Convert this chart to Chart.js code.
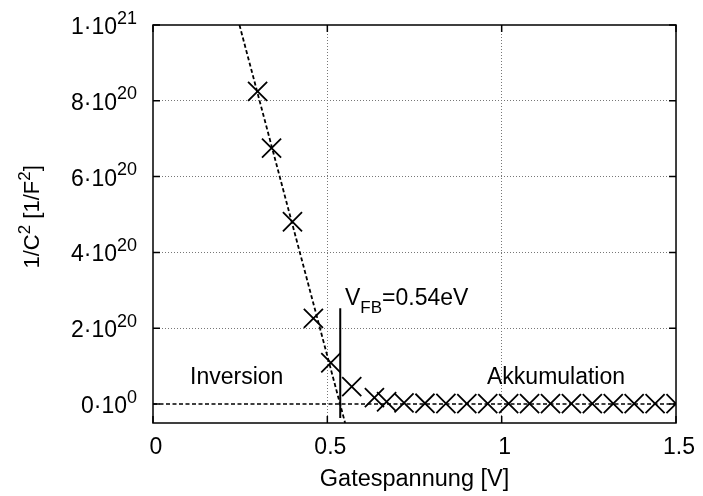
<!DOCTYPE html>
<html>
<head>
<meta charset="utf-8">
<script src="https://cdn.jsdelivr.net/npm/chart.js@4/dist/chart.umd.min.js"></script>
<style>
  html, body { margin: 0; padding: 0; background: #fff; }
  #wrap { width: 703px; height: 496px; position: relative; }
</style>
</head>
<body>
<div id="wrap"><canvas id="cv"></canvas></div>
<script>
// Messwerte: Gatespannung [V] und 1/C^2 [1/F^2]
const gateVoltage = [0.30, 0.34, 0.40, 0.46, 0.51, 0.57, 0.635, 0.67, 0.72, 0.78, 0.84, 0.90, 0.96,
  1.02, 1.08, 1.14, 1.20, 1.26, 1.32, 1.38, 1.44, 1.50];
const invCapSq = [8.25e20, 6.75e20, 4.81e20, 2.26e20, 1.09e20, 0.46e20, 0.17e20, 0.06e20, 0.03e20,
  0.02e20, 0.015e20, 0.01e20, 0.01e20, 0.01e20, 0.01e20, 0.01e20, 0.01e20, 0.01e20, 0.01e20,
  0.01e20, 0.01e20, 0.01e20];

// Fitgerade, Nulllinie und V_FB-Markierung
const fitX = [0.248, 0.551];
const fitY = [1e21, -5e19];
const zeroX = [0, 1.5];
const zeroY = [0, 0];
const vfbX = [0.537, 0.537];
const vfbY = [2.525e20, -3.7e19];

const xTicks = [0, 0.5, 1, 1.5];
const yTicks = [0, 2e20, 4e20, 6e20, 8e20, 1e21];
const yTickMant = ["0", "2", "4", "6", "8", "1"];
const yTickExp = ["0", "20", "20", "20", "20", "21"];

const FAM = '"Liberation Sans", Arial, Helvetica, sans-serif';
const pts = (xs, ys) => xs.map((v, i) => ({ x: v, y: ys[i] }));

// Rahmen, Ticks nach innen, Beschriftungen mit Hoch-/Tiefstellung
const frame = {
  id: "frame",
  afterDatasetsDraw(chart) {
    const { ctx, chartArea: a, scales: { x, y } } = chart;
    ctx.save();
    ctx.strokeStyle = "#000";
    ctx.lineWidth = 1.5;
    ctx.strokeRect(a.left, a.top, a.right - a.left, a.bottom - a.top);
    ctx.beginPath();
    xTicks.forEach((v) => {
      const p = x.getPixelForValue(v);
      ctx.moveTo(p, a.bottom); ctx.lineTo(p, a.bottom - 7);
      ctx.moveTo(p, a.top); ctx.lineTo(p, a.top + 7);
    });
    yTicks.forEach((v) => {
      const p = y.getPixelForValue(v);
      ctx.moveTo(a.left, p); ctx.lineTo(a.left + 7, p);
      ctx.moveTo(a.right, p); ctx.lineTo(a.right - 7, p);
    });
    ctx.stroke();

    ctx.fillStyle = "#000";
    ctx.textBaseline = "alphabetic";
    // y-Achsenbeschriftung  m·10^e
    const R = 137;
    yTicks.forEach((v, i) => {
      const p = y.getPixelForValue(v);
      ctx.font = "18px " + FAM;
      const ew = ctx.measureText(yTickExp[i]).width;
      ctx.textAlign = "left";
      ctx.fillText(yTickExp[i], R - ew, p - 1.5);
      ctx.font = "23px " + FAM;
      ctx.textAlign = "right";
      ctx.fillText(yTickMant[i] + "\u00B710", R - ew, p + 9);
    });

    // y-Achsentitel (gedreht)
    ctx.save();
    ctx.translate(38.5, 268.5);
    ctx.rotate(-Math.PI / 2);
    ctx.textAlign = "left";
    let cx = 0;
    const seg = (t, size, dy) => {
      ctx.font = size + "px " + FAM;
      ctx.fillText(t, cx, dy);
      cx += ctx.measureText(t).width;
    };
    seg("1/C", 22, 0); seg("2", 17, -9); seg(" [1/F", 22, 0); seg("2", 17, -9); seg("]", 22, 0);
    ctx.restore();

    // V_FB-Label
    cx = 345;
    const seg2 = (t, size, by) => {
      ctx.font = size + "px " + FAM;
      ctx.fillText(t, cx, by);
      cx += ctx.measureText(t).width;
    };
    ctx.textAlign = "left";
    seg2("V", 23, 305); seg2("FB", 17, 313); seg2("=0.54eV", 23, 305);

    ctx.font = "23px " + FAM;
    ctx.fillText("Inversion", 190, 384);
    ctx.fillText("Akkumulation", 487, 384);
    ctx.restore();
  },
};

const gridColor = (edge) => (c) => (c.tick && edge.includes(c.tick.value) ? "rgba(0,0,0,0)" : "#777");

new Chart(document.getElementById("cv"), {
  type: "scatter",
  data: {
    datasets: [
      {
        data: pts(gateVoltage, invCapSq),
        pointStyle: "crossRot",
        pointRadius: 13.5,
        pointBorderWidth: 1.8,
        borderColor: "#000",
        showLine: false,
      },
      {
        data: pts(fitX, fitY),
        showLine: true,
        pointRadius: 0,
        borderColor: "#000",
        borderWidth: 1.8,
        borderDash: [4, 2.5],
      },
      {
        data: pts(zeroX, zeroY),
        showLine: true,
        pointRadius: 0,
        borderColor: "#000",
        borderWidth: 1.6,
        borderDash: [4, 2.5],
      },
      {
        data: pts(vfbX, vfbY),
        showLine: true,
        pointRadius: 0,
        borderColor: "#000",
        borderWidth: 2,
      },
    ],
  },
  options: {
    responsive: true,
    maintainAspectRatio: false,
    animation: false,
    layout: { padding: { left: 0, top: 25, right: 20, bottom: 0 } },
    plugins: { legend: { display: false }, tooltip: { enabled: false } },
    scales: {
      x: {
        type: "linear",
        min: 0,
        max: 1.5,
        afterBuildTicks: (s) => { s.ticks = xTicks.map((v) => ({ value: v })); },
        afterFit: (s) => { s.height = 73; },
        grid: { color: gridColor([0, 1.5]), lineWidth: 1, drawTicks: false },
        border: { display: false, dash: [1, 2] },
        ticks: {
          color: "#000",
          font: { family: FAM, size: 23 },
          padding: 11,
          labelOffset: 3,
          maxRotation: 0,
          autoSkip: false,
          callback: (v) => String(v),
        },
        title: {
          display: true,
          text: "Gatespannung [V]",
          color: "#000",
          font: { family: FAM, size: 23.5 },
          padding: { top: 0, bottom: 2 },
        },
      },
      y: {
        type: "linear",
        min: -5e19,
        max: 1e21,
        afterBuildTicks: (s) => { s.ticks = yTicks.map((v) => ({ value: v })); },
        afterFit: (s) => { s.width = 153; },
        grid: { color: gridColor([0, 1e21]), lineWidth: 1, drawTicks: false },
        border: { display: false, dash: [1, 2] },
        ticks: { display: false },
      },
    },
  },
  plugins: [frame],
});
</script>
</body>
</html>
